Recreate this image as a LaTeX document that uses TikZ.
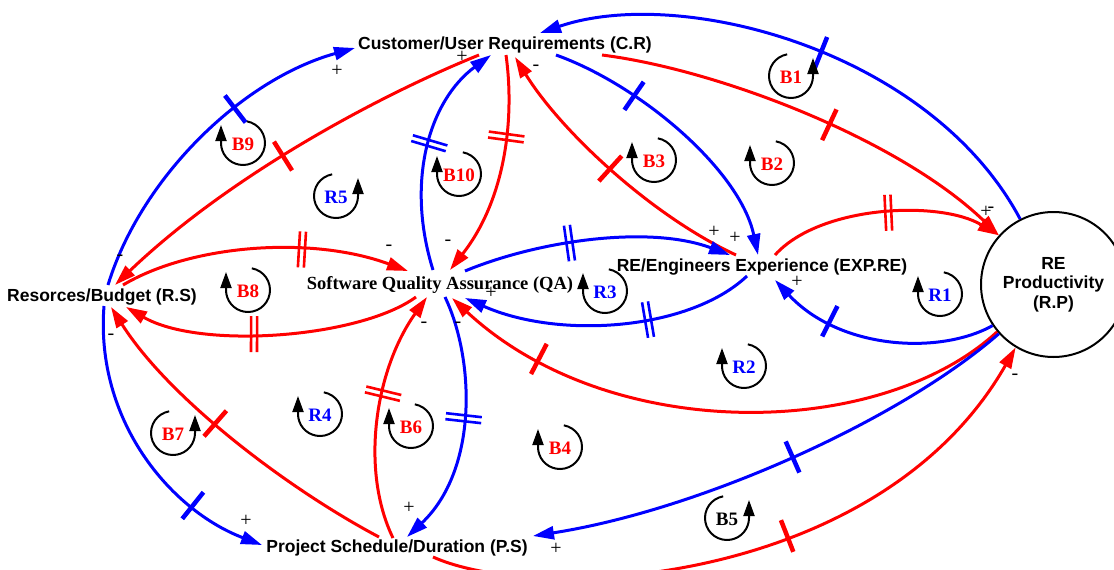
\documentclass[tikz,border=0pt]{standalone}
\usepackage{fontspec}
\setmainfont{Liberation Serif}
\setsansfont{Liberation Sans}
\usetikzlibrary{arrows.meta,decorations.markings}

\begin{document}
\begin{tikzpicture}[x=1pt,y=-1pt,
  var/.style={font=\sffamily\bfseries\fontsize{17.5}{19.5}\selectfont, inner sep=0pt},
  qavar/.style={font=\rmfamily\bfseries\fontsize{18.5}{20}\selectfont, inner sep=0pt},
  link/.style={line width=3pt, -{Triangle[length=21pt,width=13pt]}},
  bl/.style={link, blue},
  rd/.style={link, red},
  onetick/.style={postaction={decorate,decoration={markings,
      mark=at position #1 with {\draw[line width=4.5pt,-] (0pt,-17pt) -- (0pt,17pt);}}}},
  twotick/.style={postaction={decorate,decoration={markings,
      mark=at position #1 with {\draw[line width=2.6pt,-] (-3pt,-18pt) -- (-3pt,18pt) (3pt,-18pt) -- (3pt,18pt);}}}},
  sign/.style={font=\rmfamily\fontsize{20}{20}\selectfont, inner sep=0pt},
  looplabel/.style={font=\rmfamily\bfseries\fontsize{19}{19}\selectfont, inner sep=0pt},
  cwloop/.pic={\draw[line width=2pt, black, -{Triangle[length=16pt,width=11pt]}]
      (280:22) arc[start angle=280, end angle=540, radius=22] -- ++(0,-18);},
  ccwloop/.pic={\draw[line width=2pt, black, -{Triangle[length=16pt,width=11pt]}]
      (260:22) arc[start angle=260, end angle=0, radius=22] -- ++(0,-18);},
]
\useasboundingbox (0,0) rectangle (1114,570);
\clip (0,0) rectangle (1114,570);

% variables
\node[var] (cr) at (505,45) {Customer/User Requirements (C.R)};
\node[qavar] (qa) at (440,285) {Software Quality Assurance (QA)};
\node[var] (exp) at (762,267) {RE/Engineers Experience (EXP.RE)};
\node[var] (rs) at (102,297) {Resorces/Budget (R.S)};
\node[var] (ps) at (397,548) {Project Schedule/Duration (P.S)};
\node[var, circle, draw, line width=2pt, minimum size=145pt, align=center] (rp) at (1053.5,284.5) {RE\\Productivity\\(R.P)};

% causal links around C.R
\draw[bl, onetick=0.48] (rp.117) .. controls (930,50) and (680,-15) .. ([shift={(35,-12)}]cr.center);
\draw[rd, onetick=0.54] ([shift={(97,10)}]cr.center) .. controls (720,70) and (900,140) .. (rp.138);
\draw[bl, onetick=0.30] ([shift={(51,10)}]cr.center) .. controls (640,85) and (740,170) .. ([shift={(-4,-12)}]exp.center);
\draw[rd, onetick=0.51] ([shift={(-26,-12)}]exp.center) .. controls (650,215) and (560,130) .. ([shift={(10,12)}]cr.center);
\draw[bl, onetick=0.62] ([shift={(6,-12)}]rs.center) .. controls (140,180) and (240,80) .. ([shift={(-150,3)}]cr.center);
\draw[rd, onetick=0.51] ([shift={(-26,10)}]cr.center) .. controls (380,95) and (230,175) .. ([shift={(13,-12)}]rs.center);
\draw[bl, twotick=0.54] ([shift={(-7,-15)}]qa.center) .. controls (405,180) and (430,100) .. ([shift={(-14,10)}]cr.center);
\draw[rd, twotick=0.36] ([shift={(1,10)}]cr.center) .. controls (515,120) and (505,200) .. ([shift={(10,-15)}]qa.center);

% links between QA and EXP.RE
\draw[bl, twotick=0.40] ([shift={(25,-14)}]qa.center) .. controls (540,240) and (650,225) .. ([shift={(-32,-12)}]exp.center);
\draw[bl, twotick=0.37] ([shift={(-15,9)}]exp.center) .. controls (690,330) and (560,340) .. ([shift={(25,13)}]qa.center);

% links with RE productivity
\draw[rd, twotick=0.52] ([shift={(13,-12)}]exp.center) .. controls (820,205) and (940,200) .. (rp.138);
\draw[bl, onetick=0.71] (rp.214) .. controls (940,355) and (840,350) .. ([shift={(13,13)}]exp.center);
\draw[rd, onetick=0.82] (rp.220) .. controls (880,440) and (610,445) .. ([shift={(12,13)}]qa.center);
\draw[bl, onetick=0.47] (rp.222) .. controls (900,420) and (700,510) .. ([shift={(136,-12)}]ps.center);
\draw[rd, onetick=0.545] ([shift={(36,9)}]ps.center) .. controls (540,605) and (880,585) .. (rp.239);

% links with budget and schedule
\draw[rd, twotick=0.63] ([shift={(21,-12)}]rs.center) .. controls (190,245) and (310,235) .. ([shift={(-32,-14)}]qa.center);
\draw[rd, twotick=0.56] ([shift={(-24,12)}]qa.center) .. controls (360,338) and (200,350) .. ([shift={(24,10)}]rs.center);
\draw[rd, onetick=0.56] ([shift={(-18,-11)}]ps.center) .. controls (290,490) and (170,400) .. ([shift={(9,10)}]rs.center);
\draw[bl, onetick=0.74] ([shift={(2,9)}]rs.center) .. controls (95,420) and (170,510) .. ([shift={(-135,-3)}]ps.center);
\draw[rd, twotick=0.58] ([shift={(-4,-10)}]ps.center) .. controls (360,470) and (375,370) .. ([shift={(-13,12)}]qa.center);
\draw[bl, twotick=0.48] ([shift={(5,12)}]qa.center) .. controls (475,360) and (478,470) .. ([shift={(10,-11)}]ps.center);

% polarity signs
\node[sign] (s1) at (337,71) {+};
\node[sign] (s2) at (462,57) {+};
\node[sign] (s3) at (536,68) {-};
\node[sign] (s4) at (986,212) {+};
\node[sign] (s5) at (991,210) {-};
\node[sign] (s6) at (714,232) {+};
\node[sign] (s7) at (735,238) {+};
\node[sign] (s8) at (389,248) {-};
\node[sign] (s9) at (448,243) {-};
\node[sign] (s10) at (491,293) {+};
\node[sign] (s11) at (797,282) {+};
\node[sign] (s12) at (120,258) {-};
\node[sign] (s13) at (111,337) {-};
\node[sign] (s14) at (424,325) {-};
\node[sign] (s15) at (458,325) {-};
\node[sign] (s16) at (246,521) {+};
\node[sign] (s17) at (409,508) {+};
\node[sign] (s18) at (556,549) {+};
\node[sign] (s19) at (1015,377) {-};

% loop markers
\pic at (791,76) {ccwloop};  \node[looplabel, red]  (lB1) at (791,77) {B1};
\pic at (772,163) {cwloop};  \node[looplabel, red]  (lB2) at (772,164) {B2};
\pic at (654,160) {cwloop};  \node[looplabel, red]  (lB3) at (654,161) {B3};
\pic at (560,447) {cwloop};  \node[looplabel, red]  (lB4) at (560,448) {B4};
\pic at (727,518) {ccwloop}; \node[looplabel, black] (lB5) at (727,519) {B5};
\pic at (411,426) {cwloop};  \node[looplabel, red]  (lB6) at (411,427) {B6};
\pic at (173,433) {ccwloop}; \node[looplabel, red]  (lB7) at (173,434) {B7};
\pic at (248,290) {cwloop};  \node[looplabel, red]  (lB8) at (248,291) {B8};
\pic at (243,143) {cwloop};  \node[looplabel, red]  (lB9) at (243,144) {B9};
\pic at (459,174) {cwloop};  \node[looplabel, red]  (lB10) at (459,175) {B10};
\pic at (940,294) {cwloop};  \node[looplabel, blue] (lR1) at (940,295) {R1};
\pic at (744,366) {cwloop};  \node[looplabel, blue] (lR2) at (744,367) {R2};
\pic at (605,291) {cwloop};  \node[looplabel, blue] (lR3) at (605,292) {R3};
\pic at (320,414) {cwloop};  \node[looplabel, blue] (lR4) at (320,415) {R4};
\pic at (336,196) {ccwloop}; \node[looplabel, blue] (lR5) at (336,197) {R5};
\end{tikzpicture}
\end{document}
